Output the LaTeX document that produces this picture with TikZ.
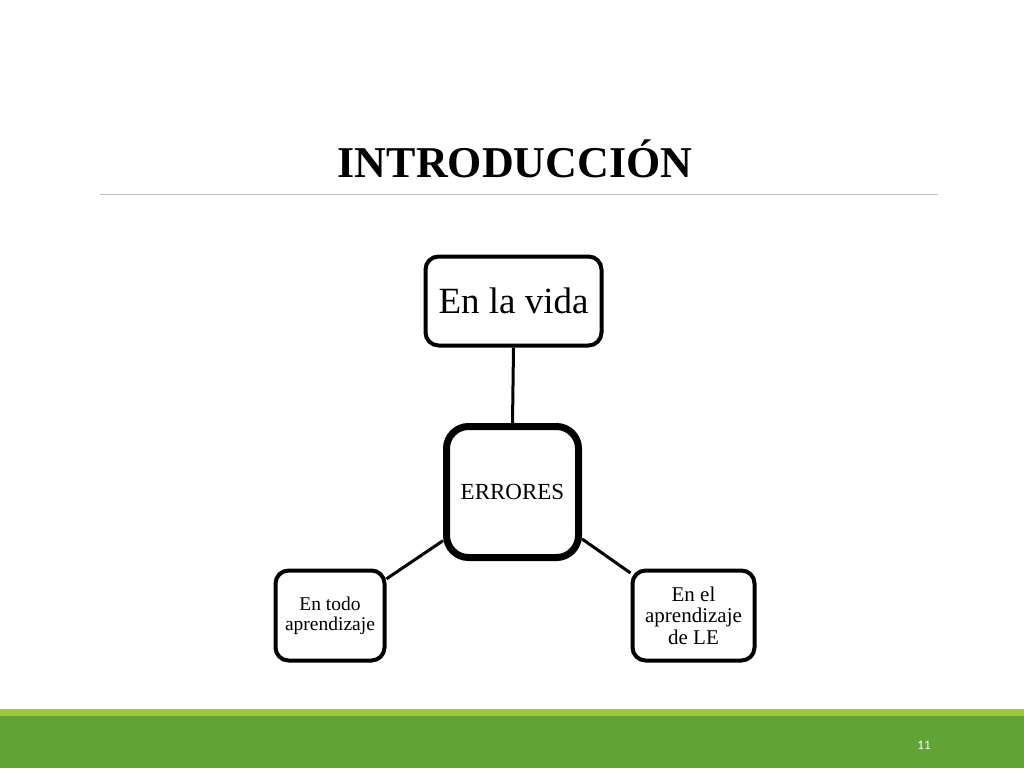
\documentclass[tikz,border=0pt]{standalone}
\usepackage{fontspec}
\setmainfont{Liberation Serif}
\newfontfamily\pagefont{Carlito}
\definecolor{darkgreen}{HTML}{62A337}
\definecolor{lightgreen}{HTML}{9BC83C}
\definecolor{rulegrey}{HTML}{BFBFBF}
\begin{document}
\begin{tikzpicture}[x=1pt,y=-1pt,
  box/.style={draw=black, line width=4pt, rounded corners=13pt, fill=white, inner sep=0pt, align=center},
  hub/.style={draw=black, line width=7pt, rounded corners=22pt, fill=white, inner sep=0pt, align=center},
  link/.style={draw=black, line width=3pt}]
\useasboundingbox (0,0) rectangle (1024,768);
\fill[white] (0,0) rectangle (1024,768);
% title
\node[font=\fontsize{44}{44}\selectfont\bfseries, anchor=base] (title) at (515,177) {INTRODUCCIÓN};
\draw[rulegrey, line width=1pt] (100,194) -- (938,194);
% nodes
\node[box, minimum width=176pt, minimum height=89pt, font=\fontsize{37}{40}\selectfont] (vida) at (513.5,301) {En la vida};
\node[hub, minimum width=132pt, minimum height=131pt, font=\fontsize{23}{26}\selectfont] (err) at (512.5,492) {ERRORES};
\node[box, minimum width=109pt, minimum height=90pt, font=\fontsize{19.5}{20}\selectfont] (todo) at (330,615.5) {En todo\\aprendizaje};
\node[box, minimum width=122pt, minimum height=90pt, font=\fontsize{21}{21.5}\selectfont] (le) at (693.5,615.5) {En el\\aprendizaje\\de LE};
% connectors
\draw[link] (vida.south) -- (err.north);
\draw[link] (err.215) -- (todo.33);
\draw[link] (err.-34) -- (le.146);
% footer
\fill[lightgreen] (0,709) rectangle (1024,717);
\fill[darkgreen] (0,716) rectangle (1024,768);
\node[text=white, font=\pagefont\fontsize{13}{13}\selectfont] (pnum) at (924,745) {11};
\end{tikzpicture}
\end{document}
